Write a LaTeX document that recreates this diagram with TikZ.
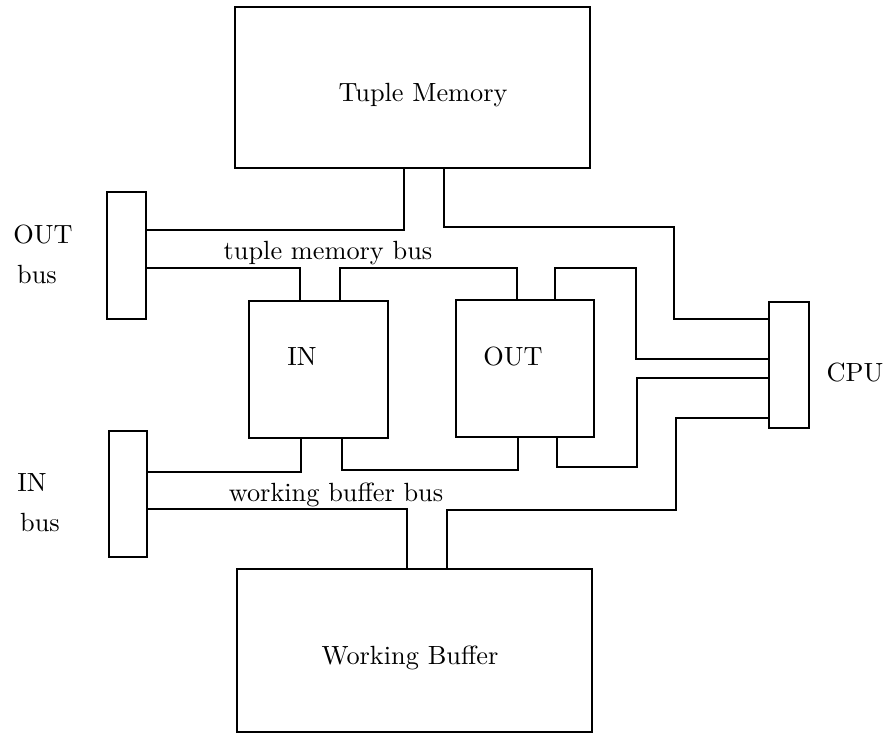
\documentclass[tikz,border=0pt]{standalone}
\begin{document}
\begin{tikzpicture}[x=0.38pt, y=-0.38pt, line width=0.7pt,
    box/.style 2 args={draw, inner sep=0pt, minimum width=#1*0.38pt, minimum height=#2*0.38pt}]
    \useasboundingbox (0,0) rectangle (885,734);

    % Memories
    \node[box={355}{161}] (tm) at (412.5,87.5) {};
    \node (tmlabel) at (423,95) {Tuple Memory};
    \node[box={355}{163}] (wb) at (414.5,650.5) {};
    \node (wblabel) at (410,658) {Working Buffer};

    % Buses and processors
    \node[box={39}{127}] (outbus) at (126.5,255.5) {};
    \node (outbuslabel) at (43,235) {OUT};
    \node (outbuslabelb) at (37,275) {bus};
    \node[box={38}{126}] (inbus) at (128,494) {};
    \node (inbuslabel) at (32,483) {IN};
    \node (inbuslabelb) at (40,523) {bus};
    \node[box={139}{137}] (in) at (318.5,369.5) {};
    \node (inlabel) at (302,357) {IN};
    \node[box={138}{137}] (out) at (525,368.5) {};
    \node (outlabel) at (513,357) {OUT};
    \node[box={40}{126}] (cpu) at (789,365) {};
    \node (cpulabel) at (855,373) {CPU};

    % Tuple memory bus
    \draw (tm.south -| 404,0) |- (outbus.east |- 0,230);
    \draw (tm.south -| 444,0) |- (674,227) |- (cpu.west |- 0,319);
    \draw (outbus.east |- 0,268) -| (in.north -| 300,0);
    \draw (in.north -| 340,0) |- (517,268) -- (out.north -| 517,0);
    \draw (out.north -| 555,0) |- (636,268) |- (cpu.west |- 0,359);
    \node (tmbuslabel) at (328,253) {tuple memory bus};

    % Working buffer bus
    \draw (cpu.west |- 0,378) -| (637,467) -| (out.south -| 557,0);
    \draw (out.south -| 518,0) |- (342,470) -- (in.south -| 342,0);
    \draw (in.south -| 301,0) |- (inbus.east |- 0,472);
    \draw (inbus.east |- 0,509) -| (wb.north -| 407,0);
    \draw (wb.north -| 447,0) |- (676,510) |- (cpu.west |- 0,418);
    \node (wbbuslabel) at (336,495) {working buffer bus};
\end{tikzpicture}
\end{document}
